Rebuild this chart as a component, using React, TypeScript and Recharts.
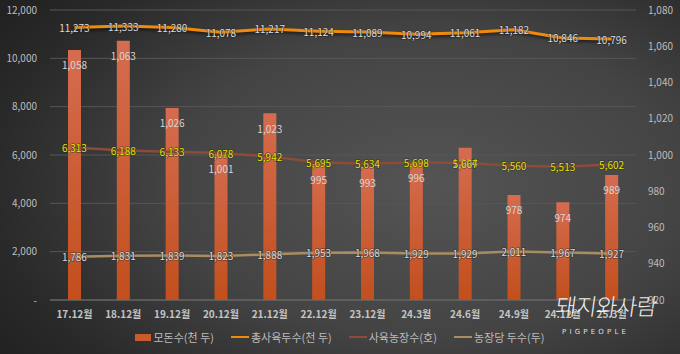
import {
  ComposedChart,
  Bar,
  Line,
  XAxis,
  YAxis,
  CartesianGrid,
  LabelList,
} from "recharts";

const categories = [
  "17.12월", "18.12월", "19.12월", "20.12월", "21.12월", "22.12월",
  "23.12월", "24.3월", "24.6월", "24.9월", "24.12월", "25.3월",
];
// 모돈수(천 두) - right axis
const sows = [1058, 1063, 1026, 1001, 1023, 995, 993, 996, 1004, 978, 974, 989];
// 총사육두수(천 두)
const totalPigs = [11273, 11333, 11280, 11078, 11217, 11124, 11089, 10994, 11061, 11182, 10846, 10796];
// 사육농장수(호)
const farms = [6313, 6188, 6133, 6078, 5942, 5695, 5634, 5698, 5667, 5560, 5513, 5602];
// 농장당 두수(두)
const perFarm = [1786, 1831, 1839, 1823, 1888, 1953, 1968, 1929, 1929, 2011, 1967, 1927];

const leftTicks = [0, 2000, 4000, 6000, 8000, 10000, 12000];
const rightTicks = [920, 940, 960, 980, 1000, 1020, 1040, 1060, 1080];

const data = categories.map((c, i) => ({
  name: c,
  sows: sows[i],
  totalPigs: totalPigs[i],
  farms: farms[i],
  perFarm: perFarm[i],
}));

const FONT = "'Noto Sans CJK KR', 'Noto Sans', sans-serif";
const fmt = (v: number) => (v === 0 ? "-" : v.toLocaleString("en-US"));

const pointLabel = (color: string) => (props: any) => {
  const { x, y, value } = props;
  return (
    <text
      x={x}
      y={y}
      textAnchor="middle"
      dominantBaseline="central"
      fill={color}
      fontSize={10}
      fontFamily={FONT}
      style={{ paintOrder: "stroke", stroke: "rgba(40,40,40,0.55)", strokeWidth: 1.5 }}
    >
      {fmt(value)}
    </text>
  );
};

const barLabel = (props: any) => {
  const { x, y, width, value } = props;
  return (
    <text
      x={x + width / 2}
      y={y + 15}
      textAnchor="middle"
      dominantBaseline="central"
      fill="#d6d6d6"
      fontSize={10}
      fontFamily={FONT}
    >
      {fmt(value)}
    </text>
  );
};

const legendItems = [
  { label: "모돈수(천 두)", color: "#cb5a2c", kind: "rect" },
  { label: "총사육두수(천 두)", color: "#f08a0c", kind: "line" },
  { label: "사육농장수(호)", color: "#8c4c37", kind: "line" },
  { label: "농장당 두수(두)", color: "#a88c62", kind: "line" },
];

export default function App() {
  return (
    <div
      style={{
        position: "relative",
        width: 680,
        height: 354,
        overflow: "hidden",
        fontFamily: FONT,
        background:
          "radial-gradient(ellipse 75% 85% at 63% 52%, #545454 0%, #444 50%, #2a2a2a 85%, #222 100%)",
      }}
    >
      <style>{"body{margin:0}"}</style>
      <ComposedChart
        width={680}
        height={354}
        data={data}
        margin={{ top: 10, right: 0, bottom: 24, left: 0 }}
      >
        <defs>
          <linearGradient id="barGrad" x1="0" y1="0" x2="0" y2="1">
            <stop offset="0%" stopColor="#d56c50" />
            <stop offset="100%" stopColor="#c24f1c" />
          </linearGradient>
        </defs>
        <CartesianGrid vertical={false} stroke="#575757" strokeWidth={1} yAxisId="left" />
        <XAxis
          dataKey="name"
          height={30}
          axisLine={{ stroke: "#6e6e6e" }}
          tickLine={false}
          tickMargin={5}
          interval={0}
          tick={{ fill: "#c4c4c4", fontSize: 10, fontWeight: 700, fontFamily: FONT }}
        />
        <YAxis
          yAxisId="left"
          orientation="left"
          width={50}
          domain={[0, 12000]}
          ticks={leftTicks}
          tickFormatter={fmt}
          axisLine={false}
          tickLine={false}
          tickMargin={7}
          tick={{ fill: "#bdbdbd", fontSize: 10, fontFamily: FONT }}
        />
        <YAxis
          yAxisId="right"
          orientation="right"
          width={44}
          domain={[920, 1080]}
          ticks={rightTicks}
          tickFormatter={fmt}
          axisLine={false}
          tickLine={false}
          tickMargin={6}
          tick={{ fill: "#bdbdbd", fontSize: 10, fontFamily: FONT }}
        />
        <Bar
          yAxisId="right"
          dataKey="sows"
          fill="url(#barGrad)"
          barSize={13}
          isAnimationActive={false}
        >
          <LabelList dataKey="sows" content={barLabel} />
        </Bar>
        <Line
          yAxisId="left"
          dataKey="perFarm"
          stroke="#a88c62"
          strokeWidth={2.5}
          dot={false}
          isAnimationActive={false}
        >
          <LabelList dataKey="perFarm" content={pointLabel("#d9d9d9")} />
        </Line>
        <Line
          yAxisId="left"
          dataKey="farms"
          stroke="#8c4c37"
          strokeWidth={2.5}
          dot={false}
          isAnimationActive={false}
        >
          <LabelList dataKey="farms" content={pointLabel("#e2e200")} />
        </Line>
        <Line
          yAxisId="left"
          dataKey="totalPigs"
          stroke="#f08a0c"
          strokeWidth={3}
          dot={false}
          isAnimationActive={false}
          style={{ filter: "drop-shadow(1px 2px 1.5px rgba(0,0,0,0.55))" }}
        >
          <LabelList dataKey="totalPigs" content={pointLabel("#dadada")} />
        </Line>
      </ComposedChart>

      <div
        style={{
          position: "absolute",
          top: 329,
          left: 0,
          width: 680,
          display: "flex",
          justifyContent: "center",
          gap: 17,
          fontSize: 11,
          color: "#bcbcbc",
          lineHeight: "16px",
        }}
      >
        {legendItems.map((it) => (
          <div key={it.label} style={{ display: "flex", alignItems: "center", gap: 2 }}>
            <span
              style={{
                display: "inline-block",
                width: it.kind === "rect" ? 16 : 18,
                height: it.kind === "rect" ? 7 : 2.5,
                background: it.color,
              }}
            />
            <span>{it.label}</span>
          </div>
        ))}
      </div>

      <div
        style={{
          position: "absolute",
          left: 556,
          top: 290,
          color: "rgba(255,255,255,0.92)",
          fontSize: 23,
          fontWeight: 300,
          letterSpacing: -1,
          whiteSpace: "nowrap",
          transform: "skewX(-8deg)",
          lineHeight: "30px",
        }}
      >
        돼지와사람
      </div>
      <div
        style={{
          position: "absolute",
          left: 562,
          top: 328,
          color: "rgba(255,255,255,0.85)",
          fontSize: 7,
          letterSpacing: 3.2,
          whiteSpace: "nowrap",
          fontFamily: "'DejaVu Sans', sans-serif",
        }}
      >
        PIGPEOPLE
      </div>
    </div>
  );
}
